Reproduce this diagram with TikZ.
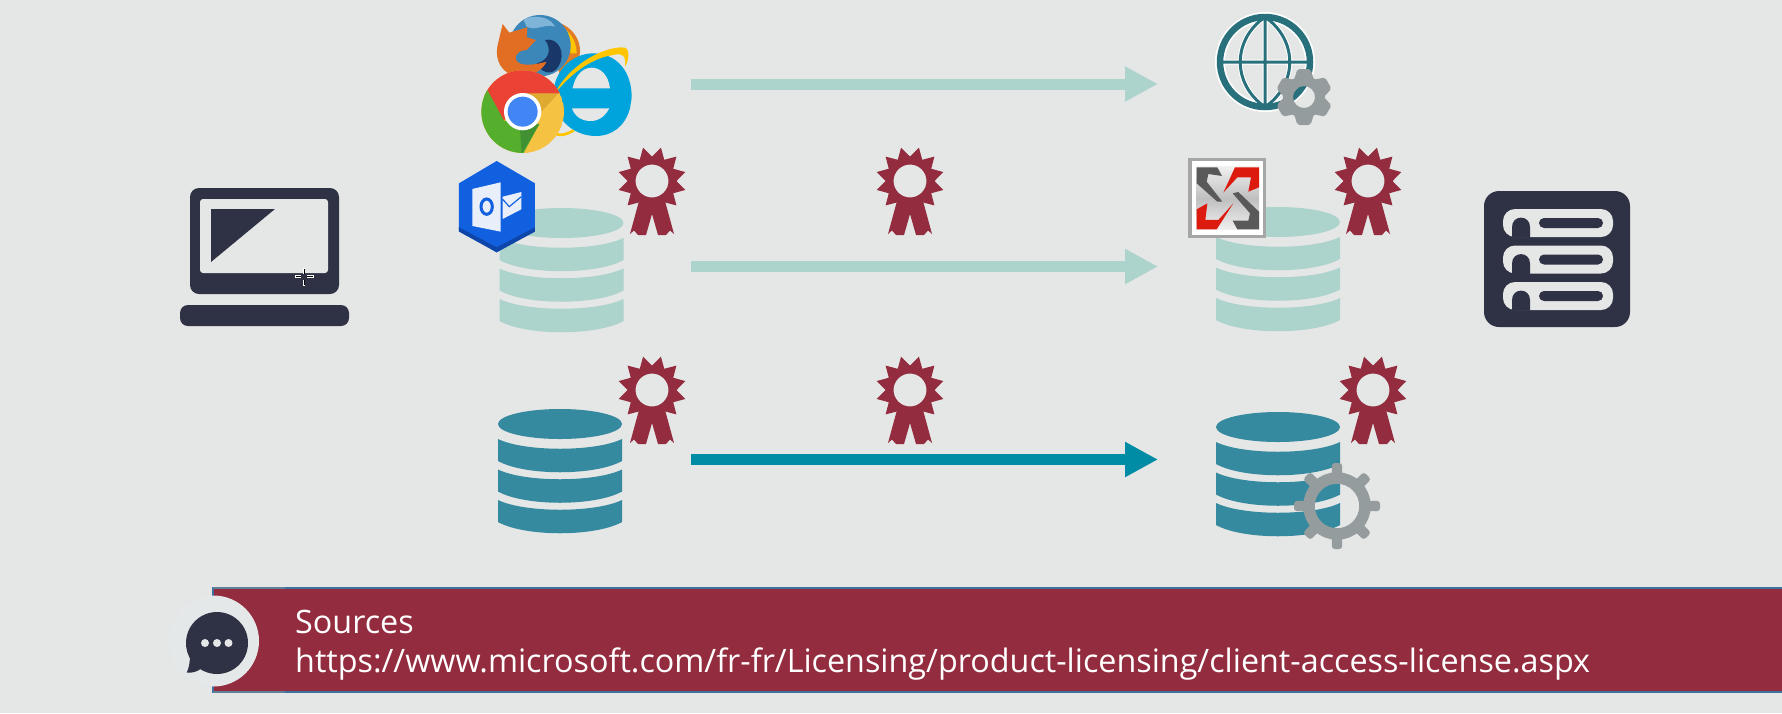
\documentclass[tikz,border=0pt]{standalone}
\usepackage{fontspec}
\setmainfont{Open Sans}
\usetikzlibrary{arrows.meta}
\definecolor{pagebg}{HTML}{E5E6E6}
\definecolor{tealpale}{HTML}{ADD3CD}
\definecolor{tealdeep}{HTML}{368A9F}
\definecolor{arrowdeep}{HTML}{008CA5}
\definecolor{rosered}{HTML}{922C3E}
\definecolor{navy}{HTML}{2E3244}
\definecolor{gearcol}{HTML}{959C9E}
\definecolor{globecol}{HTML}{27707C}
\definecolor{bannerline}{HTML}{3E71A0}
\definecolor{bannerlinesoft}{HTML}{5F8099}
\definecolor{badgecol}{HTML}{E4E8E8}
\definecolor{ieblue}{HTML}{00A4DC}
\definecolor{ieyellow}{HTML}{FFC600}
\definecolor{ffball}{RGB}{60,135,185}
\definecolor{ffdark}{RGB}{25,55,105}
\definecolor{fflight}{RGB}{125,180,215}
\definecolor{fffox}{RGB}{225,110,35}
\definecolor{ffrim}{RGB}{225,125,35}
\definecolor{chyellow}{RGB}{245,194,66}
\definecolor{chyellowd}{RGB}{222,170,50}
\definecolor{chred}{RGB}{234,67,53}
\definecolor{chgreen}{RGB}{85,175,45}
\definecolor{chgreend}{RGB}{65,145,50}
\definecolor{chblue}{RGB}{66,133,244}
\definecolor{olblue}{RGB}{17,96,224}
\definecolor{oldark}{RGB}{13,70,168}
\definecolor{olpale}{RGB}{232,239,251}
\definecolor{exred}{HTML}{DD1A0E}
\tikzset{
  flowpale/.style={draw=tealpale,line width=11pt,-{Triangle[length=33pt,width=33pt]}},
  flowdeep/.style={draw=arrowdeep,line width=11pt,-{Triangle[length=33pt,width=33pt]}},
  rosette/.pic={
    \fill[rosered,even odd rule] (15:34.5) \foreach \a in {30,60,...,360}{ -- (\a:24.5) -- (\a+15:34.5)} -- cycle (0,0) circle (16.5);
    \fill[rosered] (-13,20) -- (-22,53) -- (-18,49.5) -- (-14,54) -- (-6,54) -- (0,33) -- (6,54) -- (14,54) -- (18,49.5) -- (22,53) -- (13,20) -- cycle;
  },
  biggear/.pic={
    \draw[gearcol,line width=11.5pt] (0,0) circle (28);
    \foreach \a in {0,45,...,315}{\begin{scope}[rotate=\a]\fill[gearcol,rounded corners=3pt] (30,-5.2) rectangle (43,5.2);\end{scope}}
  },
  smallgear/.pic={
    \foreach \a in {30,90,...,330}{\begin{scope}[rotate=\a]\fill[gearcol,rounded corners=2pt] (17,-10) -- (28,-6.5) -- (28,6.5) -- (17,10) -- cycle;\end{scope}}
    \fill[gearcol,even odd rule] (0,0) circle (21) (0,0) circle (11);
  },
}
\newcommand{\dbicon}[4][62]{%
  \begin{scope}[shift={(#2,#3)}]
    \fill[#4] (0,0) ellipse (#1 and 15);
    \foreach \s in {15,45.5,76}{
      \fill[#4] (-#1,\s) .. controls (-35,\s+13) and (35,\s+13) .. (#1,\s) -- (#1,\s+22)
        .. controls (35,\s+37) and (-35,\s+37) .. (-#1,\s+22) -- cycle;
    }
  \end{scope}}
\begin{document}
\begin{tikzpicture}[x=1pt,y=-1pt]
\useasboundingbox (0,0) rectangle (1782,713);
\fill[pagebg] (0,0) rectangle (1782,713);

% databases
\dbicon{561.5}{223}{tealpale}
\dbicon{1278}{222}{tealpale}
\dbicon{560}{424}{tealdeep}
\dbicon{1278}{427}{tealdeep}

% connectors
\coordinate (r1a) at (691,84);
\coordinate (r1b) at (1158,84);
\coordinate (r2a) at (691,266.5);
\coordinate (r2b) at (1158,266.5);
\coordinate (r3a) at (691,459.5);
\coordinate (r3b) at (1158,459.5);
\draw[flowpale] (r1a) -- (r1b);
\draw[flowpale] (r2a) -- (r2b);
\draw[flowdeep] (r3a) -- (r3b);

% rosettes
\pic at (652,181) {rosette};
\pic at (910,181) {rosette};
\pic at (1368,181) {rosette};
\pic at (652,390) {rosette};
\pic at (910,390) {rosette};
\pic at (1373,390) {rosette};

% laptop
\fill[navy,rounded corners=9pt] (190,188) rectangle (339,294);
\fill[pagebg,rounded corners=3pt] (200,199) rectangle (328,273);
\fill[navy] (211,209) -- (275,209) -- (211,262) -- cycle;
\fill[navy,rounded corners=8pt] (180,305) rectangle (349,326);
% cursor
\draw[white,line width=2.5pt] (295,276.5) -- (301,276.5) (307,276.5) -- (314,276.5) (304,268) -- (304,274) (304,280) -- (304,286);
\draw[black,line width=0.7pt] (296,276.5) -- (301,276.5) (307,276.5) -- (313,276.5) (304,269) -- (304,274) (304,280) -- (304,285);

% server
\fill[navy,rounded corners=15pt] (1484,191) rectangle (1630,327);
\foreach \y in {209,245.5,282}{
  \fill[pagebg,rounded corners=12pt] (1503,\y) rectangle (1613,\y+28);
  \fill[navy,rounded corners=5pt] (1539,\y+9) rectangle (1603,\y+19);
  \fill[navy] (1512,\y+28.5) -- (1512,\y+18) .. controls (1512,\y+5.5) and (1530,\y+5.5) .. (1530,\y+18) -- (1530,\y+28.5) -- cycle;
}

% browsers (coordinates of the crop, 3:1)
\begin{scope}[shift={(380,0)},x=0.3333pt,y=-0.3333pt]
  % firefox
  \fill[ffrim] (505,62) .. controls (570,65) and (610,120) .. (598,170) -- (540,225) -- (500,100) -- cycle;
  \fill[ieyellow] (512,66) .. controls (560,78) and (590,115) .. (590,160) -- (572,160) .. controls (565,120) and (545,95) .. (512,66) -- cycle;
  \fill[ffball] (480,137) circle (92);
  \fill[ffdark] (495,120) .. controls (535,110) and (560,160) .. (535,200) .. controls (515,232) and (480,215) .. (470,190) .. controls (510,180) and (515,145) .. (495,120) -- cycle;
  \fill[fflight] (430,58) .. controls (470,40) and (515,55) .. (525,80) .. controls (490,70) and (470,95) .. (440,80) -- cycle;
  \fill[fffox] (368,72) -- (388,98) -- (442,82) -- (440,112) -- (468,120) -- (440,150) .. controls (405,150) and (395,185) .. (425,192) .. controls (450,198) and (480,190) .. (500,185) .. controls (485,215) and (450,232) .. (410,228) .. controls (365,222) and (345,180) .. (352,140) -- cycle;
  % ie
  \draw[ieyellow,line width=2.7pt,line cap=round] (530,403) .. controls (548,408) and (565,400) .. (580,392);
  \fill[ieblue] (640,160) .. controls (710,160) and (757,215) .. (755,295) -- (750,325) .. controls (735,380) and (695,408) .. (648,408) .. controls (575,408) and (520,350) .. (520,285) .. controls (520,215) and (575,160) .. (640,160) -- cycle;
  \fill[ieyellow] (525,280) .. controls (570,190) and (680,135) .. (735,143) .. controls (752,150) and (745,185) .. (735,200) .. controls (740,165) and (725,158) .. (700,165) .. controls (630,175) and (570,225) .. (525,280) -- cycle;
  \fill[pagebg] (578,265) .. controls (585,225) and (610,203) .. (635,203) .. controls (662,203) and (685,225) .. (690,265) -- cycle;
  \fill[pagebg] (576,325) .. controls (585,350) and (605,363) .. (632,363) .. controls (655,363) and (675,350) .. (688,325) -- cycle;
  % chrome
  \begin{scope}
    \clip (428,335) circle (124);
    \fill[chyellow] (428,335) circle (124);
    \fill[chyellowd] (428,280) -- (535,280) -- (480,340) -- cycle;
    \fill[chred] (428,280) -- (600,280) -- (600,150) -- (250,150) -- (250,210) -- (372,362) -- cycle;
    \fill[chgreen] (372,362) -- (322,270) -- (250,210) -- (250,520) -- (425,470) -- (478,372) -- cycle;
    \fill[chgreend] (425,462) -- (478,372) -- (420,388) -- cycle;
  \end{scope}
  \fill[white] (428,335) circle (56);
  \fill[chblue] (428,335) circle (45);
  % outlook
  \fill[olblue] (350,483) -- (465,550) -- (465,690) -- (350,757) -- (237,690) -- (237,550) -- cycle;
  \fill[oldark] (237,682) -- (350,742) -- (465,682) -- (465,695) -- (350,757) -- (237,695) -- cycle;
  \fill[olpale] (277,567) -- (362,547) -- (362,695) -- (277,678) -- cycle;
  \draw[olblue,line width=3pt] (320,620) ellipse (17 and 23);
  \fill[olpale] (368,590) -- (424,576) -- (424,628) -- (368,657) -- cycle;
  \draw[olblue,line width=1.2pt] (368,598) -- (388,620) -- (424,590);
\end{scope}

% globe
\draw[white,line width=10pt] (1265,62) circle (45);
\draw[white,line width=5pt] (1265,17) .. controls (1232,40) and (1232,84) .. (1265,107) .. controls (1298,84) and (1298,40) .. (1265,17) (1265,17) -- (1265,107) (1220,62) -- (1310,62);
\draw[globecol,line width=3pt] (1265,17) .. controls (1232,40) and (1232,84) .. (1265,107) .. controls (1298,84) and (1298,40) .. (1265,17) (1265,17) -- (1265,107) (1220,62) -- (1310,62);
\draw[globecol,line width=6.5pt] (1265,62) circle (45);
\pic at (1304,97) {smallgear};

% gear on the database
\pic at (1337,506) {biggear};

% exchange icon (coordinates of the crop, 3:1)
\begin{scope}[shift={(1180,150)},x=0.3333pt,y=-0.3333pt]
  \fill[black!35] (25,25) rectangle (258,265);
  \fill[white] (36,34) rectangle (250,255);
  \shade[top color=black!6,bottom color=black!6,middle color=black!25] (50,50) rectangle (237,240);
  \fill[black!65] (50,52) -- (112,52) -- (126,78) -- (85,72) -- (80,95) -- (127,155) -- (112,155) -- (50,100) -- cycle;
  \fill[exred] (165,52) -- (237,52) -- (237,112) -- (205,125) -- (213,82) -- (172,82) -- (130,128) -- cycle;
  \fill[exred] (50,238) -- (50,178) -- (82,160) -- (76,210) -- (115,210) -- (160,160) -- (110,238) -- cycle;
  \fill[black!65] (158,130) -- (175,126) -- (237,185) -- (237,238) -- (172,238) -- (158,212) -- (205,212) -- (210,190) -- cycle;
\end{scope}

% banner
\fill[rosered] (212,587) rectangle (1782,693);
\draw[bannerline,line width=2pt] (1782,588) -- (213,588) -- (213,692) -- (1782,692);
\draw[bannerlinesoft,line width=2pt] (285,588) -- (213,588) (213,692) -- (285,692);
\node[anchor=base west,text=white,font=\fontsize{32.3}{38}\selectfont,inner sep=0pt] (srctitle) at (295,633) {Sources};
\node[anchor=base west,text=white,font=\fontsize{32.3}{38}\selectfont,inner sep=0pt] (srcurl) at (295,672.5) {https://www.microsoft.com/fr-fr/Licensing/product-licensing/client-access-license.aspx};

% chat badge
\fill[badgecol] (213.5,641) circle (45.5);
\fill[navy] (217,643) circle (31);
\fill[navy] (186.7,672.7) .. controls (189,668) and (190,662) .. (190,655) -- (202,668) .. controls (197,672) and (192,673) .. (186.7,672.7) -- cycle;
\foreach \x in {205,217,228.5}{\fill[pagebg] (\x,643) circle (4);}
\end{tikzpicture}
\end{document}
